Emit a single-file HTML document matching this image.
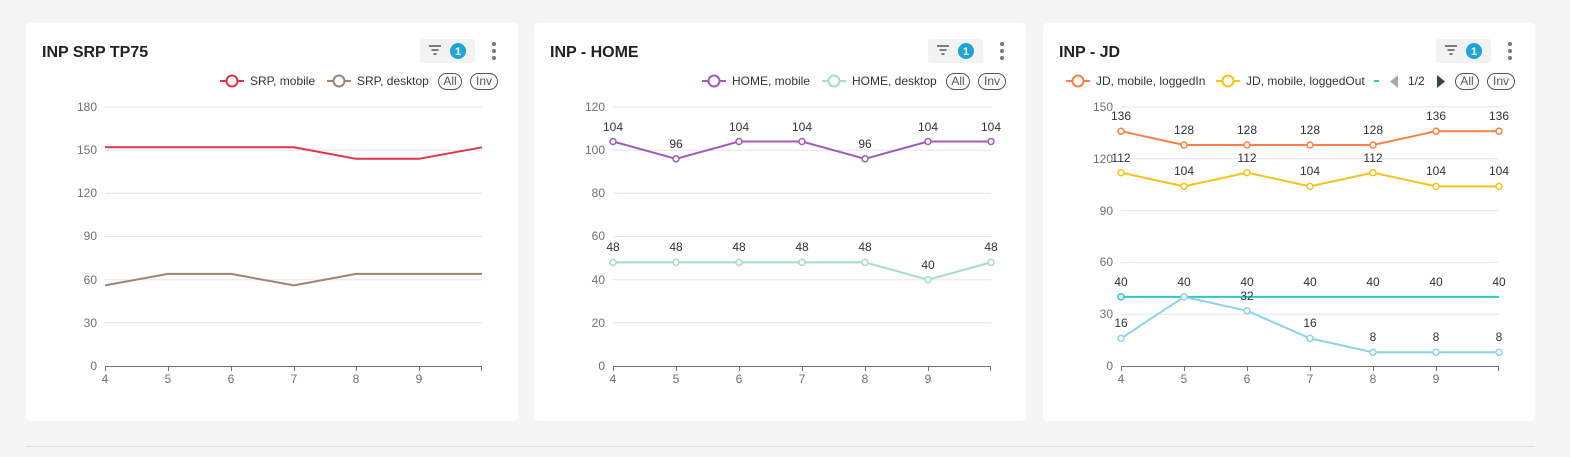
<!DOCTYPE html>
<html><head><meta charset="utf-8"><style>
html,body{margin:0;padding:0;background:#f5f5f5;}
svg{display:block;font-family:"Liberation Sans",sans-serif;}
</style></head><body>
<svg width="1570" height="457" viewBox="0 0 1570 457">
<rect width="1570" height="457" fill="#f5f5f5"/>
<line x1="26" y1="446.5" x2="1535" y2="446.5" stroke="#dcdcdc"/>
<g fill="#fff">
<rect x="26" y="23" width="492" height="398" rx="4"/>
<rect x="534" y="23" width="492" height="398" rx="4"/>
<rect x="1043" y="23" width="492" height="398" rx="4"/>
</g>
<!-- headers -->
<g font-weight="bold" font-size="16" fill="#222">
<text x="42" y="57">INP SRP TP75</text>
<text x="550" y="57">INP - HOME</text>
<text x="1059" y="57">INP - JD</text>
</g>
<g id="hdr">
<rect x="420" y="39" width="55" height="24" rx="3" fill="#f2f2f2"/>
<g stroke="#555" stroke-width="1.5"><line x1="429" y1="46" x2="441" y2="46"/><line x1="431.5" y1="50" x2="438.5" y2="50"/><line x1="433.5" y1="54" x2="436.5" y2="54"/></g>
<circle cx="458" cy="51" r="8" fill="#1ea5d1"/><text x="458" y="55" font-size="11" font-weight="bold" fill="#fff" text-anchor="middle">1</text>
<g fill="#777"><circle cx="494" cy="44" r="2"/><circle cx="494" cy="51" r="2"/><circle cx="494" cy="58" r="2"/></g>
</g>
<use href="#hdr" x="508"/>
<use href="#hdr" x="1016"/>
<!-- legends -->
<g font-size="12" fill="#333">
<g stroke-width="2" fill="#fff">
<line x1="220" y1="81" x2="244" y2="81" stroke="#e03448"/><circle cx="232" cy="81" r="5.5" stroke="#e03448"/>
<line x1="327" y1="81" x2="351" y2="81" stroke="#9c8672"/><circle cx="339" cy="81" r="5.5" stroke="#9c8672"/>
<line x1="702" y1="81" x2="726" y2="81" stroke="#a05cb8"/><circle cx="714" cy="81" r="5.5" stroke="#a05cb8"/>
<line x1="822" y1="81" x2="846" y2="81" stroke="#a5ddc5"/><circle cx="834" cy="81" r="5.5" stroke="#a5ddc5"/>
<line x1="1066" y1="81" x2="1090" y2="81" stroke="#ff7f45"/><circle cx="1078" cy="81" r="5.5" stroke="#ff7f45"/>
<line x1="1216" y1="81" x2="1240" y2="81" stroke="#f7c21b"/><circle cx="1228" cy="81" r="5.5" stroke="#f7c21b"/>
</g>
<text x="250" y="85">SRP, mobile</text><text x="357" y="85">SRP, desktop</text>
<text x="732" y="85">HOME, mobile</text><text x="852" y="85">HOME, desktop</text>
<text x="1096" y="85">JD, mobile, loggedIn</text><text x="1246" y="85">JD, mobile, loggedOut</text>
<line x1="1374" y1="81" x2="1379" y2="81" stroke="#2ec7c9" stroke-width="2"/>
<polygon points="1398,75 1398,88 1390,81.5" fill="#aaa"/>
<text x="1408" y="85">1/2</text>
<polygon points="1437,75 1437,88 1445,81.5" fill="#2f4554"/>
<g fill="none" stroke="#555">
<rect x="438.5" y="73.5" width="23" height="16" rx="8"/><rect x="470.5" y="73.5" width="27" height="16" rx="8"/>
<rect x="946.5" y="73.5" width="23" height="16" rx="8"/><rect x="978.5" y="73.5" width="27" height="16" rx="8"/>
<rect x="1455.5" y="73.5" width="23" height="16" rx="8"/><rect x="1487.5" y="73.5" width="27" height="16" rx="8"/>
</g>
<text x="450" y="85" text-anchor="middle" fill="#555">All</text><text x="484" y="85" text-anchor="middle" fill="#555">Inv</text>
<text x="958" y="85" text-anchor="middle" fill="#555">All</text><text x="992" y="85" text-anchor="middle" fill="#555">Inv</text>
<text x="1467" y="85" text-anchor="middle" fill="#555">All</text><text x="1501" y="85" text-anchor="middle" fill="#555">Inv</text>
</g>
<!-- grids -->
<g stroke="#e0e6f1">
<line x1="105" x2="482" y1="107" y2="107"/><line x1="105" x2="482" y1="150.2" y2="150.2"/><line x1="105" x2="482" y1="193.3" y2="193.3"/><line x1="105" x2="482" y1="236.5" y2="236.5"/><line x1="105" x2="482" y1="279.7" y2="279.7"/><line x1="105" x2="482" y1="322.8" y2="322.8"/>
<line x1="613" x2="991" y1="107" y2="107"/><line x1="613" x2="991" y1="150.2" y2="150.2"/><line x1="613" x2="991" y1="193.3" y2="193.3"/><line x1="613" x2="991" y1="236.5" y2="236.5"/><line x1="613" x2="991" y1="279.7" y2="279.7"/><line x1="613" x2="991" y1="322.8" y2="322.8"/>
<line x1="1121" x2="1499" y1="107" y2="107"/><line x1="1121" x2="1499" y1="158.8" y2="158.8"/><line x1="1121" x2="1499" y1="210.6" y2="210.6"/><line x1="1121" x2="1499" y1="262.4" y2="262.4"/><line x1="1121" x2="1499" y1="314.2" y2="314.2"/>
</g>
<!-- axes -->
<g stroke="#6e7079">
<line x1="105" x2="482" y1="366.5" y2="366.5"/><line x1="613" x2="991" y1="366.5" y2="366.5"/><line x1="1121" x2="1499" y1="366.5" y2="366.5"/>
<path d="M105.5 366v5M168.5 366v5M231.5 366v5M294.5 366v5M356.5 366v5M419.5 366v5M481.5 366v5"/>
<path d="M613.5 366v5M676.5 366v5M739.5 366v5M802.5 366v5M865.5 366v5M928.5 366v5M990.5 366v5"/>
<path d="M1121.5 366v5M1184.5 366v5M1247.5 366v5M1310.5 366v5M1373.5 366v5M1436.5 366v5M1498.5 366v5"/>
</g>
<g font-size="12" fill="#6e7079" text-anchor="end">
<text x="97" y="111">180</text><text x="97" y="154">150</text><text x="97" y="197">120</text><text x="97" y="240">90</text><text x="97" y="284">60</text><text x="97" y="327">30</text><text x="97" y="370">0</text>
<text x="605" y="111">120</text><text x="605" y="154">100</text><text x="605" y="197">80</text><text x="605" y="240">60</text><text x="605" y="284">40</text><text x="605" y="327">20</text><text x="605" y="370">0</text>
<text x="1113" y="111">150</text><text x="1113" y="163">120</text><text x="1113" y="215">90</text><text x="1113" y="266">60</text><text x="1113" y="318">30</text><text x="1113" y="370">0</text>
</g>
<g font-size="12" fill="#6e7079" text-anchor="middle">
<text x="105" y="383">4</text><text x="168" y="383">5</text><text x="231" y="383">6</text><text x="294" y="383">7</text><text x="356" y="383">8</text><text x="419" y="383">9</text>
<text x="613" y="383">4</text><text x="676" y="383">5</text><text x="739" y="383">6</text><text x="802" y="383">7</text><text x="865" y="383">8</text><text x="928" y="383">9</text>
<text x="1121" y="383">4</text><text x="1184" y="383">5</text><text x="1247" y="383">6</text><text x="1310" y="383">7</text><text x="1373" y="383">8</text><text x="1436" y="383">9</text>
</g>
<!-- series -->
<g fill="none" stroke-width="2">
<polyline stroke="#e03448" points="105,147.3 168,147.3 231,147.3 294,147.3 356,158.8 419,158.8 482,147.3"/>
<polyline stroke="#9c8672" points="105,285.4 168,273.9 231,273.9 294,285.4 356,273.9 419,273.9 482,273.9"/>
<polyline stroke="#a05cb8" points="613,141.5 676,158.8 739,141.5 802,141.5 865,158.8 928,141.5 991,141.5"/>
<polyline stroke="#a5ddc5" points="613,262.4 676,262.4 739,262.4 802,262.4 865,262.4 928,279.7 991,262.4"/>
<polyline stroke="#ff7f45" points="1121,131.2 1184,145 1247,145 1310,145 1373,145 1436,131.2 1499,131.2"/>
<polyline stroke="#f7c21b" points="1121,172.6 1184,186.4 1247,172.6 1310,186.4 1373,172.6 1436,186.4 1499,186.4"/>
<polyline stroke="#2ec7c9" points="1121,296.9 1184,296.9 1247,296.9 1310,296.9 1373,296.9 1436,296.9 1499,296.9"/>
<polyline stroke="#8dd3e8" points="1121,338.4 1184,296.9 1247,310.7 1310,338.4 1373,352.2 1436,352.2 1499,352.2"/>
</g>
<g fill="#fff" stroke-width="1.5">
<g stroke="#a05cb8"><circle cx="613" cy="141.5" r="3"/><circle cx="676" cy="158.8" r="3"/><circle cx="739" cy="141.5" r="3"/><circle cx="802" cy="141.5" r="3"/><circle cx="865" cy="158.8" r="3"/><circle cx="928" cy="141.5" r="3"/><circle cx="991" cy="141.5" r="3"/></g>
<g stroke="#a5ddc5"><circle cx="613" cy="262.4" r="3"/><circle cx="676" cy="262.4" r="3"/><circle cx="739" cy="262.4" r="3"/><circle cx="802" cy="262.4" r="3"/><circle cx="865" cy="262.4" r="3"/><circle cx="928" cy="279.7" r="3"/><circle cx="991" cy="262.4" r="3"/></g>
<g stroke="#ff7f45"><circle cx="1121" cy="131.2" r="3"/><circle cx="1184" cy="145" r="3"/><circle cx="1247" cy="145" r="3"/><circle cx="1310" cy="145" r="3"/><circle cx="1373" cy="145" r="3"/><circle cx="1436" cy="131.2" r="3"/><circle cx="1499" cy="131.2" r="3"/></g>
<g stroke="#f7c21b"><circle cx="1121" cy="172.6" r="3"/><circle cx="1184" cy="186.4" r="3"/><circle cx="1247" cy="172.6" r="3"/><circle cx="1310" cy="186.4" r="3"/><circle cx="1373" cy="172.6" r="3"/><circle cx="1436" cy="186.4" r="3"/><circle cx="1499" cy="186.4" r="3"/></g>
<g stroke="#2ec7c9"><circle cx="1121" cy="296.9" r="3"/></g>
<g stroke="#8dd3e8"><circle cx="1121" cy="338.4" r="3"/><circle cx="1184" cy="296.9" r="3"/><circle cx="1247" cy="310.7" r="3"/><circle cx="1310" cy="338.4" r="3"/><circle cx="1373" cy="352.2" r="3"/><circle cx="1436" cy="352.2" r="3"/><circle cx="1499" cy="352.2" r="3"/></g>
</g>
<!-- labels -->
<g font-size="12" fill="#333" text-anchor="middle">
<text x="613" y="131">104</text><text x="676" y="148">96</text><text x="739" y="131">104</text><text x="802" y="131">104</text><text x="865" y="148">96</text><text x="928" y="131">104</text><text x="991" y="131">104</text>
<text x="613" y="251">48</text><text x="676" y="251">48</text><text x="739" y="251">48</text><text x="802" y="251">48</text><text x="865" y="251">48</text><text x="928" y="269">40</text><text x="991" y="251">48</text>
<text x="1121" y="120">136</text><text x="1184" y="134">128</text><text x="1247" y="134">128</text><text x="1310" y="134">128</text><text x="1373" y="134">128</text><text x="1436" y="120">136</text><text x="1499" y="120">136</text>
<text x="1121" y="162">112</text><text x="1184" y="175">104</text><text x="1247" y="162">112</text><text x="1310" y="175">104</text><text x="1373" y="162">112</text><text x="1436" y="175">104</text><text x="1499" y="175">104</text>
<text x="1121" y="286">40</text><text x="1184" y="286">40</text><text x="1247" y="286">40</text><text x="1310" y="286">40</text><text x="1373" y="286">40</text><text x="1436" y="286">40</text><text x="1499" y="286">40</text>
<text x="1121" y="327">16</text><text x="1247" y="300">32</text><text x="1310" y="327">16</text><text x="1373" y="341">8</text><text x="1436" y="341">8</text><text x="1499" y="341">8</text>
</g>
</svg>
</body></html>
